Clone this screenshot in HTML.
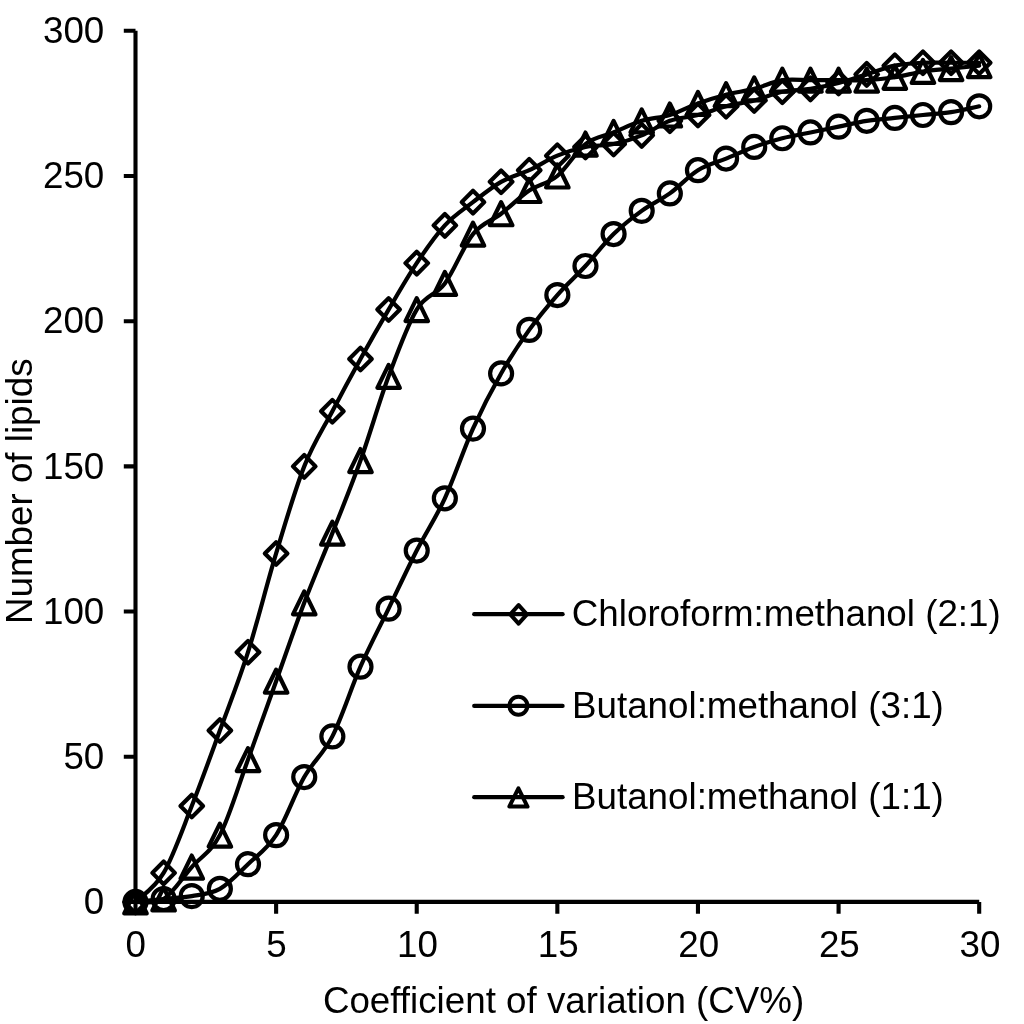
<!DOCTYPE html>
<html lang="en"><head><meta charset="utf-8"><title>Number of lipids vs coefficient of variation</title>
<style>html,body{margin:0;padding:0;background:#fff}svg{display:block;will-change:transform}text{font-family:"Liberation Sans",Arial,sans-serif;font-size:36.75px;fill:#000;font-variant-ligatures:none;font-kerning:normal}</style>
</head><body>
<svg width="1024" height="1024" viewBox="0 0 1024 1024">
<defs>
<path id="mD" d="M0 -11.3L11.3 0L0 11.3L-11.3 0Z"/>
<circle id="mC" r="11"/>
<path id="mT" d="M0 -11.5L11.25 11.5L-11.25 11.5Z"/>
</defs>
<g fill="none" stroke="#000" stroke-width="4.1" stroke-linecap="butt">
<path d="M135.5 30.82V901.9"/>
<path d="M135.5 901.9H979.19"/>
<path d="M123.8 901.9H135.5 M123.8 756.72H135.5 M123.8 611.54H135.5 M123.8 466.36H135.5 M123.8 321.18H135.5 M123.8 176H135.5 M123.8 30.82H135.5"/>
<path d="M135.5 901.9V913.7 M276.12 901.9V913.7 M416.73 901.9V913.7 M557.35 901.9V913.7 M697.96 901.9V913.7 M838.58 901.9V913.7 M979.19 901.9V913.7"/>
</g>
<g fill="none" stroke="#000" stroke-width="4.2" stroke-linecap="round" stroke-linejoin="round">
<path d="M135.5 901.9C140.19 897.06 154.25 888.83 163.62 872.86C173 856.89 182.37 829.79 191.75 806.08C201.12 782.37 210.49 756.24 219.87 730.59C229.24 704.94 238.62 681.71 247.99 652.19C257.37 622.67 266.74 584.44 276.12 553.47C285.49 522.5 294.86 490.07 304.24 466.36C313.61 442.65 322.99 429.1 332.36 411.19C341.74 393.29 351.11 375.86 360.48 358.93C369.86 341.99 379.23 325.54 388.61 309.57C397.98 293.6 407.36 277.14 416.73 263.11C426.1 249.07 435.48 235.52 444.85 225.36C454.23 215.2 463.6 209.39 472.98 202.13C482.35 194.87 491.72 187.13 501.1 181.81C510.47 176.48 519.85 174.55 529.22 170.19C538.6 165.84 547.97 159.55 557.35 155.67C566.72 151.8 576.09 148.9 585.47 146.96C594.84 145.03 604.22 146 613.59 144.06C622.97 142.12 632.34 139.22 641.71 135.35C651.09 131.48 660.46 124.22 669.84 120.83C679.21 117.44 688.59 117.44 697.96 115.02C707.33 112.6 716.71 108.73 726.08 106.31C735.46 103.89 744.83 102.93 754.21 100.51C763.58 98.09 772.95 93.73 782.33 91.8C791.7 89.86 801.08 90.34 810.45 88.89C819.83 87.44 829.2 85.5 838.58 83.08C847.95 80.67 857.32 77.28 866.7 74.37C876.07 71.47 885.45 67.6 894.82 65.66C904.2 63.73 913.57 63.24 922.94 62.76C932.32 62.28 941.69 62.76 951.07 62.76C960.44 62.76 974.5 62.76 979.19 62.76"/>
<use href="#mD" x="135.5" y="901.9"/>
<use href="#mD" x="163.62" y="872.86"/>
<use href="#mD" x="191.75" y="806.08"/>
<use href="#mD" x="219.87" y="730.59"/>
<use href="#mD" x="247.99" y="652.19"/>
<use href="#mD" x="276.12" y="553.47"/>
<use href="#mD" x="304.24" y="466.36"/>
<use href="#mD" x="332.36" y="411.19"/>
<use href="#mD" x="360.48" y="358.93"/>
<use href="#mD" x="388.61" y="309.57"/>
<use href="#mD" x="416.73" y="263.11"/>
<use href="#mD" x="444.85" y="225.36"/>
<use href="#mD" x="472.98" y="202.13"/>
<use href="#mD" x="501.1" y="181.81"/>
<use href="#mD" x="529.22" y="170.19"/>
<use href="#mD" x="557.35" y="155.67"/>
<use href="#mD" x="585.47" y="146.96"/>
<use href="#mD" x="613.59" y="144.06"/>
<use href="#mD" x="641.71" y="135.35"/>
<use href="#mD" x="669.84" y="120.83"/>
<use href="#mD" x="697.96" y="115.02"/>
<use href="#mD" x="726.08" y="106.31"/>
<use href="#mD" x="754.21" y="100.51"/>
<use href="#mD" x="782.33" y="91.8"/>
<use href="#mD" x="810.45" y="88.89"/>
<use href="#mD" x="838.58" y="83.08"/>
<use href="#mD" x="866.7" y="74.37"/>
<use href="#mD" x="894.82" y="65.66"/>
<use href="#mD" x="922.94" y="62.76"/>
<use href="#mD" x="951.07" y="62.76"/>
<use href="#mD" x="979.19" y="62.76"/>
<path d="M135.5 901.9C140.19 901.42 154.25 899.96 163.62 899C173 898.03 182.37 897.79 191.75 896.09C201.12 894.4 210.49 894.16 219.87 888.83C229.24 883.51 238.62 873.11 247.99 864.15C257.37 855.2 266.74 849.64 276.12 835.12C285.49 820.6 294.86 793.5 304.24 777.05C313.61 760.59 322.99 754.78 332.36 736.39C341.74 718.01 351.11 688 360.48 666.71C369.86 645.42 379.23 627.99 388.61 608.64C397.98 589.28 407.36 568.95 416.73 550.56C426.1 532.17 435.48 518.62 444.85 498.3C454.23 477.97 463.6 449.42 472.98 428.61C482.35 407.8 491.72 389.9 501.1 373.44C510.47 356.99 519.85 342.96 529.22 329.89C538.6 316.82 547.97 305.69 557.35 295.05C566.72 284.4 576.09 276.17 585.47 266.01C594.84 255.85 604.22 243.27 613.59 234.07C622.97 224.88 632.34 217.62 641.71 210.84C651.09 204.07 660.46 200.2 669.84 193.42C679.21 186.65 688.59 176 697.96 170.19C707.33 164.39 716.71 162.45 726.08 158.58C735.46 154.71 744.83 150.35 754.21 146.96C763.58 143.58 772.95 140.67 782.33 138.25C791.7 135.83 801.08 134.38 810.45 132.45C819.83 130.51 829.2 128.57 838.58 126.64C847.95 124.7 857.32 122.28 866.7 120.83C876.07 119.38 885.45 118.9 894.82 117.93C904.2 116.96 913.57 115.99 922.94 115.02C932.32 114.06 941.69 113.57 951.07 112.12C960.44 110.67 974.5 107.28 979.19 106.31"/>
<use href="#mC" x="135.5" y="901.9"/>
<use href="#mC" x="163.62" y="899"/>
<use href="#mC" x="191.75" y="896.09"/>
<use href="#mC" x="219.87" y="888.83"/>
<use href="#mC" x="247.99" y="864.15"/>
<use href="#mC" x="276.12" y="835.12"/>
<use href="#mC" x="304.24" y="777.05"/>
<use href="#mC" x="332.36" y="736.39"/>
<use href="#mC" x="360.48" y="666.71"/>
<use href="#mC" x="388.61" y="608.64"/>
<use href="#mC" x="416.73" y="550.56"/>
<use href="#mC" x="444.85" y="498.3"/>
<use href="#mC" x="472.98" y="428.61"/>
<use href="#mC" x="501.1" y="373.44"/>
<use href="#mC" x="529.22" y="329.89"/>
<use href="#mC" x="557.35" y="295.05"/>
<use href="#mC" x="585.47" y="266.01"/>
<use href="#mC" x="613.59" y="234.07"/>
<use href="#mC" x="641.71" y="210.84"/>
<use href="#mC" x="669.84" y="193.42"/>
<use href="#mC" x="697.96" y="170.19"/>
<use href="#mC" x="726.08" y="158.58"/>
<use href="#mC" x="754.21" y="146.96"/>
<use href="#mC" x="782.33" y="138.25"/>
<use href="#mC" x="810.45" y="132.45"/>
<use href="#mC" x="838.58" y="126.64"/>
<use href="#mC" x="866.7" y="120.83"/>
<use href="#mC" x="894.82" y="117.93"/>
<use href="#mC" x="922.94" y="115.02"/>
<use href="#mC" x="951.07" y="112.12"/>
<use href="#mC" x="979.19" y="106.31"/>
<path d="M135.5 901.9C140.19 901.42 154.25 904.8 163.62 899C173 893.19 182.37 877.7 191.75 867.06C201.12 856.41 210.49 853.02 219.87 835.12C229.24 817.21 238.62 785.27 247.99 759.62C257.37 733.98 266.74 707.36 276.12 681.23C285.49 655.09 294.86 627.51 304.24 602.83C313.61 578.15 322.99 556.86 332.36 533.14C341.74 509.43 351.11 486.69 360.48 460.55C369.86 434.42 379.23 401.51 388.61 376.35C397.98 351.18 407.36 325.05 416.73 309.57C426.1 294.08 435.48 296.02 444.85 283.43C454.23 270.85 463.6 245.69 472.98 234.07C482.35 222.46 491.72 221.01 501.1 213.75C510.47 206.49 519.85 196.81 529.22 190.52C538.6 184.23 547.97 183.74 557.35 176C566.72 168.26 576.09 151.32 585.47 144.06C594.84 136.8 604.22 136.32 613.59 132.45C622.97 128.57 632.34 123.74 641.71 120.83C651.09 117.93 660.46 117.93 669.84 115.02C679.21 112.12 688.59 106.8 697.96 103.41C707.33 100.02 716.71 97.12 726.08 94.7C735.46 92.28 744.83 91.31 754.21 88.89C763.58 86.47 772.95 81.63 782.33 80.18C791.7 78.73 801.08 80.18 810.45 80.18C819.83 80.18 829.2 80.18 838.58 80.18C847.95 80.18 857.32 80.67 866.7 80.18C876.07 79.7 885.45 78.73 894.82 77.28C904.2 75.83 913.57 72.92 922.94 71.47C932.32 70.02 941.69 69.53 951.07 68.57C960.44 67.6 974.5 66.15 979.19 65.66"/>
<use href="#mT" x="135.5" y="901.9"/>
<use href="#mT" x="163.62" y="899"/>
<use href="#mT" x="191.75" y="867.06"/>
<use href="#mT" x="219.87" y="835.12"/>
<use href="#mT" x="247.99" y="759.62"/>
<use href="#mT" x="276.12" y="681.23"/>
<use href="#mT" x="304.24" y="602.83"/>
<use href="#mT" x="332.36" y="533.14"/>
<use href="#mT" x="360.48" y="460.55"/>
<use href="#mT" x="388.61" y="376.35"/>
<use href="#mT" x="416.73" y="309.57"/>
<use href="#mT" x="444.85" y="283.43"/>
<use href="#mT" x="472.98" y="234.07"/>
<use href="#mT" x="501.1" y="213.75"/>
<use href="#mT" x="529.22" y="190.52"/>
<use href="#mT" x="557.35" y="176"/>
<use href="#mT" x="585.47" y="144.06"/>
<use href="#mT" x="613.59" y="132.45"/>
<use href="#mT" x="641.71" y="120.83"/>
<use href="#mT" x="669.84" y="115.02"/>
<use href="#mT" x="697.96" y="103.41"/>
<use href="#mT" x="726.08" y="94.7"/>
<use href="#mT" x="754.21" y="88.89"/>
<use href="#mT" x="782.33" y="80.18"/>
<use href="#mT" x="810.45" y="80.18"/>
<use href="#mT" x="838.58" y="80.18"/>
<use href="#mT" x="866.7" y="80.18"/>
<use href="#mT" x="894.82" y="77.28"/>
<use href="#mT" x="922.94" y="71.47"/>
<use href="#mT" x="951.07" y="68.57"/>
<use href="#mT" x="979.19" y="65.66"/>
<path d="M474.2 614.2H562.6"/>
<path d="M474.2 705.9H562.6"/>
<path d="M474.2 797.2H562.6"/>
</g>
<g fill="none" stroke="#000" stroke-width="4" stroke-linejoin="round">
<path d="M518.6 605.1L526.9 614.4L518.6 623.7L510.3 614.4Z"/>
<circle cx="518.4" cy="705.8" r="9"/>
<path d="M518.4 788.4L527.5 806.6L509.3 806.6Z"/>
</g>
<g text-anchor="end">
<text x="104.3" y="914.2">0</text>
<text x="104.3" y="769.02">50</text>
<text x="104.3" y="623.84">100</text>
<text x="104.3" y="478.66">150</text>
<text x="104.3" y="333.48">200</text>
<text x="104.3" y="188.3">250</text>
<text x="104.3" y="43.12">300</text>
</g>
<g text-anchor="middle">
<text x="135.8" y="957.3">0</text>
<text x="276.42" y="957.3">5</text>
<text x="417.53" y="957.3">10</text>
<text x="558.14" y="957.3">15</text>
<text x="698.76" y="957.3">20</text>
<text x="839.38" y="957.3">25</text>
<text x="979.99" y="957.3">30</text>
</g>
<text x="322.9" y="1013.1">Coefficient of variation (CV%)</text>
<text transform="translate(32 624) rotate(-90)">Number of lipids</text>
<text x="571.8" y="626.2">Chloroform:methanol (2:1)</text>
<text x="572" y="717.8">Butanol:methanol (3:1)</text>
<text x="572" y="809">Butanol:methanol (1:1)</text>
</svg></body></html>
